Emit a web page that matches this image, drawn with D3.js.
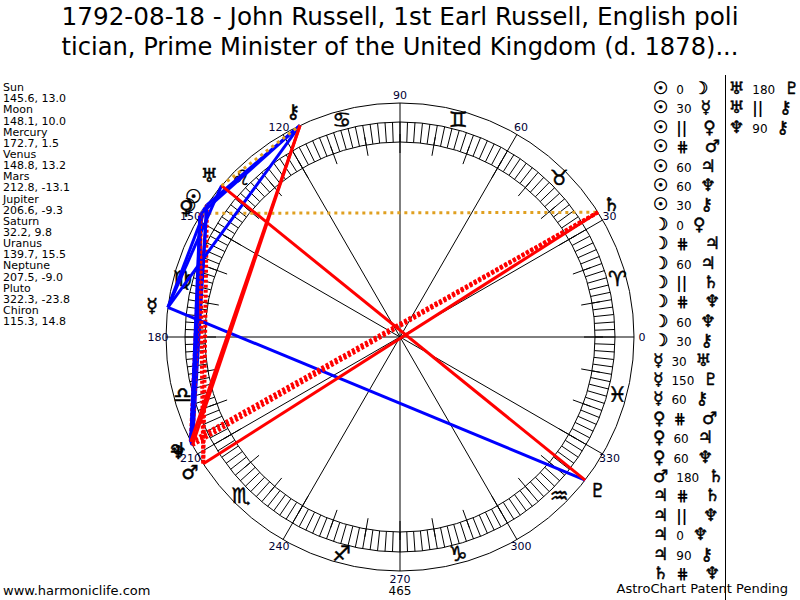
<!DOCTYPE html>
<html lang="en">
<head>
    <meta charset="UTF-8">
    <title>AstroChart</title>
    <script src="https://d3js.org/d3.v7.min.js"></script>
    <style>
        body { margin: 0; background: #fff; }
        svg { font-family: "DejaVu Sans", Verdana, sans-serif; display: block; }
        .wheel { fill: none; stroke: #000; stroke-width: 1px; }
        .tick { stroke: #000; stroke-width: 1px; }
        .label { font-size: 11px; fill: #000033; }
        .glyph { stroke: #000; stroke-width: 0.5px; }
    </style>
</head>
<body>
    <div id="chart"></div>

    <script>
        // chart data
        const titleLines = [
            "1792-08-18 - John Russell, 1st Earl Russell, English poli",
            "tician, Prime Minister of the United Kingdom (d. 1878)..."
        ];
        const planetNames = ["Sun", "Moon", "Mercury", "Venus", "Mars", "Jupiter", "Saturn", "Uranus", "Neptune", "Pluto", "Chiron"];
        const planetGlyphs = ["\u2609", "\u263D", "\u263F", "\u2640", "\u2642", "\u2643", "\u2644", "\u2645", "\u2646", "\u2647", "\u26B7"];
        const longitudes = [145.6, 148.1, 172.7, 148.8, 212.8, 206.6, 32.2, 139.7, 207.5, 322.3, 115.3];
        const latitudes = [13.0, 10.0, 1.5, 13.2, -13.1, -9.3, 9.8, 15.5, -9.0, -23.8, 14.8];
        const signGlyphs = ["\u2648", "\u2649", "\u264A", "\u264B", "\u264C", "\u264D", "\u264E", "\u264F", "\u2650", "\u2651", "\u2652", "\u2653"];
        const houseCusps = [0, 30, 60, 90, 120, 150, 180, 210, 240, 270, 300, 330];
        const aspects = [
            ["Sun", "0", "Moon"], ["Sun", "30", "Mercury"], ["Sun", "||", "Venus"], ["Sun", "#", "Mars"],
            ["Sun", "60", "Jupiter"], ["Sun", "60", "Neptune"], ["Sun", "30", "Chiron"],
            ["Moon", "0", "Venus"], ["Moon", "#", "Jupiter"], ["Moon", "60", "Jupiter"], ["Moon", "||", "Saturn"],
            ["Moon", "#", "Neptune"], ["Moon", "60", "Neptune"], ["Moon", "30", "Chiron"],
            ["Mercury", "30", "Uranus"], ["Mercury", "150", "Pluto"], ["Mercury", "60", "Chiron"],
            ["Venus", "#", "Mars"], ["Venus", "60", "Jupiter"], ["Venus", "60", "Neptune"],
            ["Mars", "180", "Saturn"],
            ["Jupiter", "#", "Saturn"], ["Jupiter", "||", "Neptune"], ["Jupiter", "0", "Neptune"], ["Jupiter", "90", "Chiron"],
            ["Saturn", "#", "Neptune"],
            ["Uranus", "180", "Pluto"], ["Uranus", "||", "Chiron"], ["Neptune", "90", "Chiron"]
        ];
        const footerLeft = "www.harmoniclife.com";
        const footerMid = "465";
        const footerRight = "AstroChart Patent Pending";

        const width = 800;
        const height = 600;
        const cx = 400, cy = 337;
        const rOuter = 234, rBand = 215, rInner = 195;
        const TXT = "\uFE0E";

        const angle = d3.scaleLinear().domain([0, 360]).range([0, 2 * Math.PI]);
        const pt = (lon, r) => [cx + r * Math.cos(angle(lon)), cy - r * Math.sin(angle(lon))];
        const lonOf = name => longitudes[planetNames.indexOf(name)];
        const glyphOf = name => planetGlyphs[planetNames.indexOf(name)] + TXT;

        const svg = d3.select("#chart").append("svg")
            .attr("width", width)
            .attr("height", height);

        // title
        svg.append("g").selectAll("text")
            .data(titleLines)
            .enter().append("text")
            .attr("x", 400)
            .attr("y", (d, i) => 25 + i * 30)
            .attr("text-anchor", "middle")
            .attr("font-size", 24)
            .attr("textLength", 677)
            .attr("lengthAdjust", "spacingAndGlyphs")
            .text(d => d);

        // planet list on the left
        const list = svg.append("g").attr("font-size", 11);
        planetNames.forEach((p, i) => {
            list.append("text").attr("x", 3).attr("y", 91 + i * 22.3).text(p);
            list.append("text").attr("x", 3).attr("y", 102.2 + i * 22.3)
                .text(`${longitudes[i].toFixed(1)}, ${latitudes[i].toFixed(1)}`);
        });

        // house lines
        svg.append("g").selectAll("line")
            .data(houseCusps)
            .enter().append("line")
            .attr("class", "tick")
            .attr("x1", cx).attr("y1", cy)
            .attr("x2", d => pt(d, rOuter)[0])
            .attr("y2", d => pt(d, rOuter)[1]);

        // wheel circles
        svg.append("g").selectAll("circle")
            .data([rOuter, rBand, rInner])
            .enter().append("circle")
            .attr("class", "wheel")
            .attr("cx", cx).attr("cy", cy)
            .attr("r", d => d);

        // degree band
        const band = svg.append("g");
        band.selectAll("line.small")
            .data(d3.range(0, 360, 2))
            .enter().append("line")
            .attr("class", "tick")
            .attr("x1", d => pt(d, rInner)[0]).attr("y1", d => pt(d, rInner)[1])
            .attr("x2", d => pt(d, rBand)[0]).attr("y2", d => pt(d, rBand)[1]);
        band.selectAll("line.big")
            .data(d3.range(0, 360, 10))
            .enter().append("line")
            .attr("class", "tick")
            .attr("x1", d => pt(d, 184)[0]).attr("y1", d => pt(d, 184)[1])
            .attr("x2", d => pt(d, rInner + 8)[0]).attr("y2", d => pt(d, rInner + 8)[1]);

        // degree labels
        svg.append("g").selectAll("text")
            .data(houseCusps)
            .enter().append("text")
            .attr("class", "label")
            .attr("x", d => pt(d, 242)[0])
            .attr("y", d => pt(d, 242)[1])
            .attr("text-anchor", "middle")
            .attr("dominant-baseline", "central")
            .text(d => d);

        // zodiac signs
        svg.append("g").selectAll("text")
            .data(signGlyphs)
            .enter().append("text")
            .attr("class", "glyph")
            .attr("x", (d, i) => pt(i * 30 + 15, 225)[0])
            .attr("y", (d, i) => pt(i * 30 + 15, 225)[1])
            .attr("text-anchor", "middle")
            .attr("dominant-baseline", "central")
            .attr("font-size", 21)
            .text(d => d + TXT);

        // aspect lines
        const style = t => {
            if (t === "90" || t === "180") return { c: "#ff0000", w: 3, dash: null };
            if (t === "#") return { c: "#ff0000", w: 4, dash: "3,2" };
            if (t === "||") return { c: "#e0a020", w: 3, dash: "3,4" };
            return { c: "#0000ff", w: 3, dash: null };
        };
        svg.append("g").selectAll("line")
            .data(aspects)
            .enter().append("line")
            .attr("x1", d => pt(lonOf(d[0]), rOuter)[0])
            .attr("y1", d => pt(lonOf(d[0]), rOuter)[1])
            .attr("x2", d => pt(lonOf(d[2]), rOuter)[0])
            .attr("y2", d => pt(lonOf(d[2]), rOuter)[1])
            .attr("stroke", d => style(d[1]).c)
            .attr("stroke-width", d => style(d[1]).w)
            .attr("stroke-dasharray", d => style(d[1]).dash);

        // planet glyphs around the wheel
        svg.append("g").selectAll("text")
            .data(planetNames)
            .enter().append("text")
            .attr("class", "glyph")
            .attr("x", d => pt(lonOf(d), 250)[0])
            .attr("y", d => pt(lonOf(d), 250)[1])
            .attr("text-anchor", "middle")
            .attr("dominant-baseline", "central")
            .attr("font-size", 19)
            .text(d => glyphOf(d));

        // aspect list on the right
        svg.append("line")
            .attr("x1", 725.5).attr("y1", 75)
            .attr("x2", 725.5).attr("y2", 600)
            .attr("stroke", "#000");

        const rows = svg.append("g");
        aspects.forEach((a, i) => {
            const col = i < 26 ? 0 : 1;
            const row = col ? i - 26 : i;
            const sym = a[1] === "#" ? "\u22D5" : a[1];
            const wide = a[1] === "#" || a[1] === "||";
            const t = rows.append("text")
                .attr("x", col ? 729 : 653)
                .attr("y", 94 + row * 19.4);
            t.append("tspan").attr("class", "glyph").attr("font-size", 17).text(glyphOf(a[0]));
            t.append("tspan").attr("dx", 8)
                .attr("font-size", wide ? 15 : 12)
                .attr("font-weight", wide ? "bold" : null)
                .text(sym);
            t.append("tspan").attr("class", "glyph").attr("dx", wide ? 16 : 9)
                .attr("font-size", 17).text(glyphOf(a[2]));
        });

        // footer
        svg.append("text").attr("x", 3).attr("y", 595).attr("font-size", 13).text(footerLeft);
        svg.append("text").attr("x", 400).attr("y", 595).attr("font-size", 12)
            .attr("text-anchor", "middle").text(footerMid);
        svg.append("text").attr("x", 788).attr("y", 593).attr("font-size", 13)
            .attr("text-anchor", "end").text(footerRight);
    </script>
</body>
</html>
